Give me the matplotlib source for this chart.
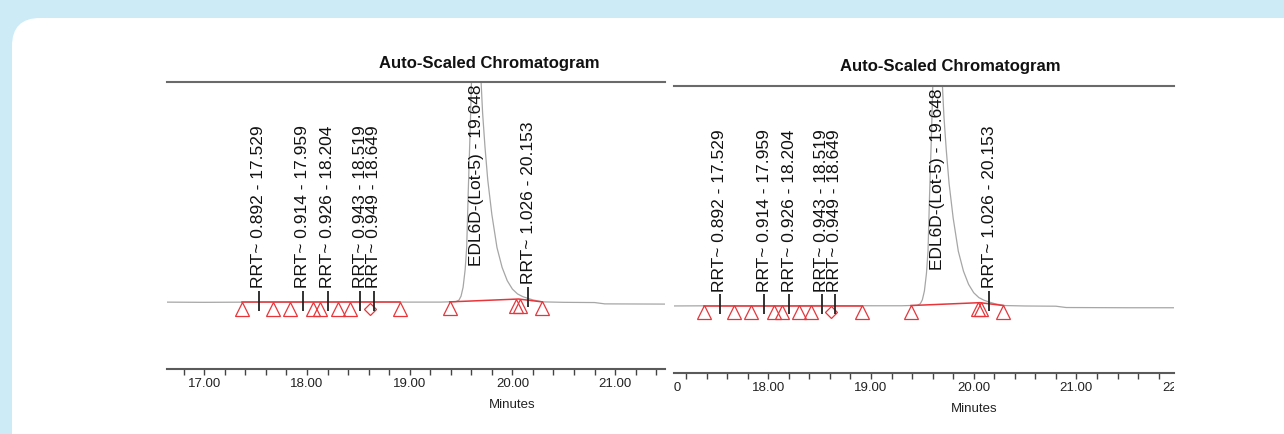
import numpy as np
import matplotlib.pyplot as plt
import matplotlib.patches as mpatches
import matplotlib.transforms as mtransforms
from matplotlib.ticker import MultipleLocator

plt.rcParams['font.family'] = ['Liberation Sans', 'DejaVu Sans']

# detector trace (minutes, response)
trace_min = [16.60, 17.00, 17.50, 18.00, 18.50, 19.00, 19.30, 19.45, 19.48, 19.50,
             19.52, 19.54, 19.555, 19.57, 19.59, 19.61, 19.63, 19.648, 19.67, 19.69,
             19.71, 19.733, 19.76, 19.80, 19.85, 19.90, 19.95, 20.00, 20.05, 20.10,
             20.15, 20.20, 20.25, 20.30, 20.50, 20.80, 20.90, 21.50, 22.00]
trace_resp = [0.003, 0.002, 0.003, 0.003, 0.004, 0.003, 0.003, 0.005, 0.012, 0.030,
              0.070, 0.150, 0.250, 0.500, 0.800, 1.150, 1.600, 1.900, 1.550, 1.050,
              0.860, 0.707, 0.557, 0.400, 0.250, 0.160, 0.100, 0.062, 0.040, 0.028,
              0.020, 0.013, 0.008, 0.004, 0.002, 0.001, -0.005, -0.006, -0.006]

# integration baselines
base1_min = [17.37, 18.91]
base1_resp = [0.003, 0.003]
base2_min = [19.39, 20.06, 20.29]
base2_resp = [0.004, 0.017, 0.004]

# peak start / end marks and the valley drop
tri_min = [17.37, 17.67, 17.83, 18.06, 18.13, 18.30, 18.42, 18.91, 19.39, 20.04, 20.07, 20.29]
tri_resp = [0.003, 0.003, 0.003, 0.003, 0.003, 0.003, 0.003, 0.003, 0.004, 0.017, 0.017, 0.004]
drop_min = [18.61]
drop_resp = [0.003]

# named peaks
peak_names = ['RRT~ 0.892', 'RRT~ 0.914', 'RRT~ 0.926', 'RRT~ 0.943', 'RRT~ 0.949',
              'EDL6D-(Lot-5)', 'RRT~ 1.026']
peak_rt = [17.529, 17.959, 18.204, 18.519, 18.649, 19.648, 20.153]
peak_resp = [0.003, 0.003, 0.003, 0.003, 0.003, 1.900, 0.020]

minute_ticks = [16, 17, 18, 19, 20, 21, 22]

W, H = 1284, 434
fig = plt.figure(figsize=(W / 100, H / 100), dpi=100)
fig.patch.set_facecolor('#cdebf6')
card = mpatches.FancyBboxPatch((12, -60), 1400, H - 18 + 60,
                               boxstyle='round,pad=0,rounding_size=28',
                               transform=mtransforms.IdentityTransform(),
                               facecolor='white', edgecolor='none', zorder=-10)
fig.add_artist(card)

red = '#e8353a'
ylim = (-0.30, 1.0)

# (left, top, right, bottom) in pixels, x range in minutes
panels = [
    ((167, 82, 665, 369), (16.637, 21.486)),
    ((674, 85.5, 1174, 372.7), (17.082, 21.950)),
]

for (x0, y0, x1, y1), xlim in panels:
    ax = fig.add_axes([x0 / W, (H - y1) / H, (x1 - x0) / W, (y1 - y0) / H])
    ax.set_facecolor('none')
    ax.set_xlim(*xlim)
    ax.set_ylim(*ylim)

    for s in ['left', 'right']:
        ax.spines[s].set_visible(False)
    ax.spines['bottom'].set_color('#5a5a5a')
    ax.spines['bottom'].set_linewidth(1.5)
    ax.spines['top'].set_color('#6a6a6a')
    ax.spines['top'].set_linewidth(1.5)
    ax.xaxis.set_major_locator(MultipleLocator(0.2))
    ax.tick_params(axis='x', direction='out', length=4, width=1, color='#444444',
                   labelbottom=False)
    ax.tick_params(axis='y', left=False, labelleft=False)

    ax.plot(trace_min, trace_resp, color='#a6a6a6', lw=0.9, zorder=2)
    ax.plot(base1_min, base1_resp, color=red, lw=1.1, zorder=3)
    ax.plot(base2_min, base2_resp, color=red, lw=1.1, zorder=3)

    below = mtransforms.offset_copy(ax.transData, fig=fig, y=-6.5, units='dots')
    ax.plot(tri_min, tri_resp, ls='none', marker='^', ms=9.4, mfc='none', mec=red,
            mew=0.9, transform=below, zorder=4)
    ax.plot(drop_min, drop_resp, ls='none', marker='D', ms=6.4, mfc='none', mec=red,
            mew=0.9, transform=below, zorder=4)

    # peak labels, with a short tick for the on-scale peaks
    tick_tr = mtransforms.offset_copy(ax.transData, fig=fig, y=1.5, units='dots')
    text_tr = mtransforms.offset_copy(ax.transData, fig=fig, y=14, units='dots')
    for name, rt, resp in zip(peak_names, peak_rt, peak_resp):
        label = '%s - %.3f' % (name, rt)
        if resp < ylim[1]:
            ax.plot([rt], [resp], ls='none', marker='|', ms=13.7, mew=1.3,
                    color='#222222', transform=tick_tr, zorder=5)
            ax.text(rt, resp, label, rotation=90, ha='center', va='bottom',
                    fontsize=12.5, color='#111111', transform=text_tr, clip_on=True)
        else:
            ax.text(rt, 0.165, label, rotation=90, ha='center', va='bottom',
                    fontsize=12.5, color='#111111', clip_on=True)

    # minute labels, clipped to the panel width
    strip = mtransforms.TransformedBbox(
        mtransforms.Bbox([[0, 0], [1, 1]]),
        mtransforms.blended_transform_factory(ax.transAxes, fig.transFigure))
    xfig = ax.get_xaxis_transform()
    for m in minute_ticks:
        t = ax.text(m, -0.053, '%.2f' % m, transform=xfig, ha='center', va='center',
                    fontsize=9.5, color='#222222')
        t.set_clip_box(strip)
        t.set_clip_on(True)
    ax.text(20.0, -0.126, 'Minutes', transform=xfig, ha='center', va='center',
            fontsize=9.5, color='#222222')

    ax.text(19.77, 1.066, 'Auto-Scaled Chromatogram', transform=xfig, ha='center',
            va='center', fontsize=12, fontweight='bold', color='#111111')

fig.savefig('out.png', dpi=100, facecolor=fig.get_facecolor())
